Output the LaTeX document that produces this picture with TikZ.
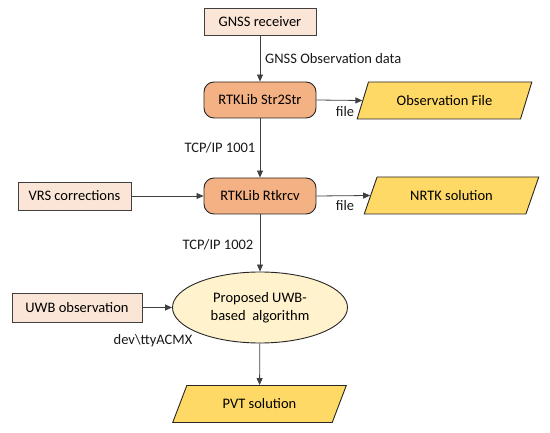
\documentclass[tikz,border=0pt]{standalone}
\usepackage{fontspec}
\setmainfont{Carlito}
\usepackage{tikz}
\usetikzlibrary{shapes.geometric,arrows.meta}
\definecolor{srcfill}{HTML}{FBE5D6}
\definecolor{procfill}{HTML}{F4B183}
\definecolor{datafill}{HTML}{FFD966}
\definecolor{algfill}{HTML}{FFF2CC}
\definecolor{edgegray}{HTML}{404040}

\begin{document}
\begin{tikzpicture}[x=1pt,y=-1pt,
    font=\fontsize{14.5}{18}\selectfont,
    srcbox/.style={draw=edgegray, line width=0.9pt, fill=srcfill, inner sep=0pt},
    procbox/.style={draw=black!85, line width=0.9pt, fill=procfill, rounded corners=10pt,
        minimum width=112pt, minimum height=36pt, inner sep=0pt},
    databox/.style={trapezium, trapezium left angle=55, trapezium right angle=125,
        trapezium stretches=true, draw=black!85, line width=0.9pt, fill=datafill,
        minimum width=175pt, minimum height=37pt, inner sep=0pt},
    algbox/.style={ellipse, draw=black!85, line width=0.9pt, fill=algfill,
        minimum width=175pt, minimum height=71pt, inner sep=0pt, align=center},
    flow/.style={draw=edgegray, line width=0.8pt, -{Triangle[length=7pt,width=6pt]}},
    lbl/.style={text=black!90, inner sep=0pt}
    ]
    \useasboundingbox (0,0) rectangle (550,433);

    % sources
    \node[srcbox, minimum width=112pt, minimum height=27pt] (gnss) at (260,22) {GNSS receiver};
    \node[srcbox, minimum width=113pt, minimum height=28pt] (vrs) at (74.5,196) {VRS corrections};
    \node[srcbox, minimum width=130pt, minimum height=29pt] (uwb) at (77,307.5) {UWB observation};

    % RTKLib processes
    \node[procbox] (str2str) at (260,100) {RTKLib Str2Str};
    \node[procbox] (rtkrcv) at (260,196) {RTKLib Rtkrcv};

    % outputs
    \node[databox] (obsfile) at (444.5,100.5) {Observation File};
    \node[databox] (nrtk) at (451.5,195.5) {NRTK solution};
    \node[databox] (pvt) at (259.5,404) {PVT solution};

    \node[algbox] (alg) at (260,307.5) {Proposed UWB-\\based\ \ algorithm};

    % connectors
    \draw[flow] (gnss) -- (str2str);
    \draw[flow] (str2str) -- (rtkrcv);
    \draw[flow] (rtkrcv) -- (alg);
    \draw[flow] (alg) -- (pvt);
    \draw[flow] (str2str.east) -- (obsfile.west);
    \draw[flow] (rtkrcv.east) -- (nrtk.west);
    \draw[flow] (vrs) -- (rtkrcv);
    \draw[flow] (uwb) -- (alg);

    % labels
    \node[lbl, anchor=west] (obslbl) at (265,59) {GNSS Observation data};
    \node[lbl] (tcp1) at (220,148) {TCP/IP 1001};
    \node[lbl] (tcp2) at (218,245) {TCP/IP 1002};
    \node[lbl] (file1) at (345,112) {file};
    \node[lbl] (file2) at (345,206) {file};
    \node[lbl] (devlbl) at (153,341) {dev\textbackslash ttyACMX};
\end{tikzpicture}
\end{document}
